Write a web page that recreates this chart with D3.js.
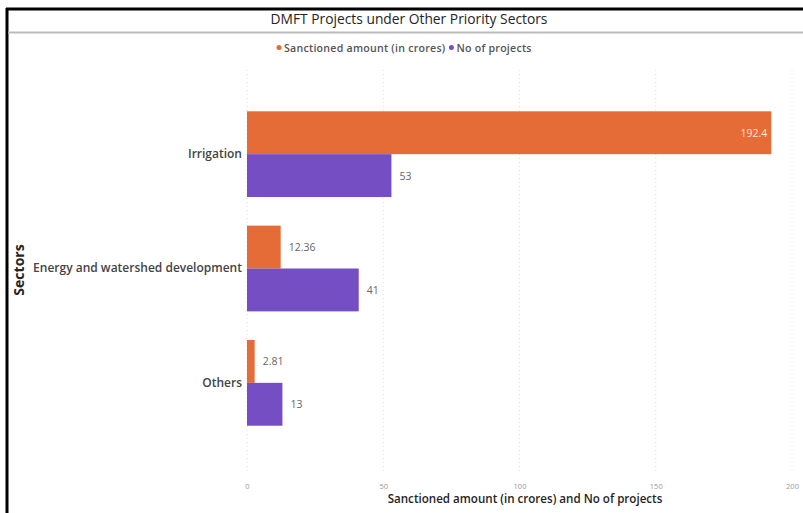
<!DOCTYPE html>
<html><head><meta charset="utf-8">
<script src="https://cdn.jsdelivr.net/npm/d3@7"></script>
<style>
body{margin:0;background:#fff;}
svg{display:block;font-family:"Open Sans","Noto Sans",sans-serif;}
</style></head>
<body>
<svg id="chart" width="803" height="513"></svg>
<script>
const categories = ["Irrigation", "Energy and watershed development", "Others"];
const seriesNames = ["Sanctioned amount (in crores)", "No of projects"];
const sanctioned = [192.4, 12.36, 2.81];
const projects = [53, 41, 13];
const sanctionedLabels = ["192.4", "12.36", "2.81"];
const projectLabels = ["53", "41", "13"];
const xTicks = [0, 50, 100, 150, 200];
const colors = ["#E66C37", "#744EC2"];

const svg = d3.select("#chart");
// frame
svg.append("rect").attr("x",0).attr("y",0).attr("width",803).attr("height",513).attr("fill","#fff");
svg.append("line").attr("x1",7).attr("x2",7).attr("y1",8).attr("y2",513).attr("stroke","#000").attr("stroke-width",3);
svg.append("line").attr("x1",6).attr("x2",803).attr("y1",9).attr("y2",9).attr("stroke","#000").attr("stroke-width",3);
svg.append("line").attr("x1",8).attr("x2",803).attr("y1",32.5).attr("y2",32.5).attr("stroke","#bbb").attr("stroke-width",2);

svg.append("text").attr("x",409).attr("y",24).attr("text-anchor","middle")
  .attr("font-size",13.8).attr("fill","#252423").text("DMFT Projects under Other Priority Sectors");

// legend
const legend = svg.append("g").attr("font-size",10.6).attr("font-weight",600).attr("fill","#555").attr("letter-spacing",0.25);
let cx = 279;
seriesNames.forEach((n,i)=>{
  legend.append("circle").attr("cx",cx).attr("cy",47.5).attr("r",2.5).attr("fill",colors[i]);
  const t = legend.append("text").attr("x",cx+5).attr("y",51.5).text(n);
  cx = cx + 5 + t.node().getComputedTextLength() + 6;
});

const x = d3.scaleLinear().domain([0,200]).range([247,792]);
const y = d3.scaleBand().domain(categories).range([97,440]).paddingInner(0.25).paddingOuter(0.125);
const ySub = d3.scaleBand().domain([0,1]).range([0,y.bandwidth()]);

// gridlines
svg.append("g").selectAll("line").data(xTicks).join("line")
  .attr("x1",d=>x(d)).attr("x2",d=>x(d)).attr("y1",70).attr("y2",472)
  .attr("stroke","#ddd").attr("stroke-width",1).attr("stroke-dasharray","1,3");

// x axis
const xAxis = svg.append("g").attr("transform","translate(0,484)")
  .call(d3.axisBottom(x).tickValues(xTicks).tickSize(0).tickPadding(0));
xAxis.select(".domain").remove();
xAxis.selectAll("text").attr("font-size",7.5).attr("fill","#999").attr("font-family","'Open Sans',sans-serif");

svg.append("text").attr("x",525).attr("y",503).attr("text-anchor","middle")
  .attr("font-size",11.6).attr("font-weight",600).attr("fill","#252423")
  .text("Sanctioned amount (in crores) and No of projects");

// y axis
const yAxis = svg.append("g").attr("transform","translate(242,0)")
  .call(d3.axisLeft(y).tickSize(0).tickPadding(0));
yAxis.select(".domain").remove();
yAxis.selectAll("text").attr("font-size",12).attr("font-weight",600).attr("fill","#444").attr("font-family","'Open Sans',sans-serif");

svg.append("text").attr("transform","translate(24,270) rotate(-90)").attr("text-anchor","middle")
  .attr("font-size",14).attr("font-weight",700).attr("fill","#252423").text("Sectors");

// bars
const data = categories.map((c,i)=>({c, vals:[sanctioned[i], projects[i]], labels:[sanctionedLabels[i], projectLabels[i]]}));
const g = svg.append("g");
data.forEach(d=>{
  d.vals.forEach((v,j)=>{
    const yy = y(d.c)+ySub(j);
    g.append("rect").attr("x",x(0)).attr("y",yy).attr("width",x(v)-x(0)).attr("height",ySub.bandwidth()).attr("fill",colors[j]);
    const inside = (x(v)-x(0))>400;
    g.append("text")
      .attr("x", inside ? x(v)-4 : x(v)+8)
      .attr("y", yy+ySub.bandwidth()/2+4)
      .attr("text-anchor", inside ? "end":"start")
      .attr("font-size",10.5).attr("fill", inside ? "#fde9dc" : "#666")
      .text(d.labels[j]);
  });
});
</script>
</body></html>
